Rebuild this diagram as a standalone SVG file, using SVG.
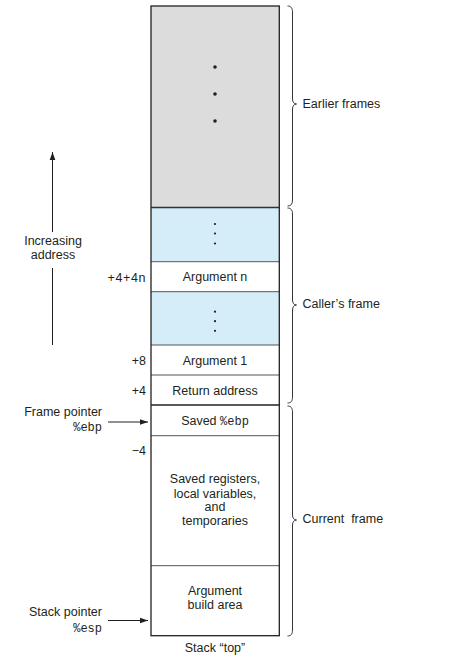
<svg xmlns="http://www.w3.org/2000/svg" width="453" height="671" viewBox="0 0 453 671">
<style>
.t{font-family:"Liberation Sans",Arial,sans-serif;font-size:12.5px;fill:#231f20}
.m{font-family:"Liberation Mono","Courier New",monospace;font-size:12px;fill:#231f20}
.c{text-anchor:middle}
.r{text-anchor:end}
.sep{stroke:#555;stroke-width:1}
.brace{fill:none;stroke:#231f20;stroke-width:0.9}
.arr{stroke:#231f20;stroke-width:1;fill:none}
</style>
<defs>
<marker id="ah" viewBox="0 0 10 10" refX="10" refY="5" markerWidth="8" markerHeight="8" markerUnits="userSpaceOnUse" orient="auto">
<path d="M0,1.5 L10,5 L0,8.5 Z" fill="#231f20"/>
</marker>
</defs>
<g id="earlier">
<rect x="151" y="6" width="128.3" height="201.5" fill="#dcdcdd"/>
<circle cx="215" cy="67" r="1.8" fill="#231f20"/>
<circle cx="215" cy="94" r="1.8" fill="#231f20"/>
<circle cx="215" cy="121" r="1.8" fill="#231f20"/>
</g>
<g id="caller-dots1">
<rect x="151" y="207.5" width="128.3" height="54.2" fill="#d4edf8"/>
<circle cx="215" cy="224" r="1.1" fill="#231f20"/>
<circle cx="215" cy="233.5" r="1.1" fill="#231f20"/>
<circle cx="215" cy="243.5" r="1.1" fill="#231f20"/>
</g>
<g id="arg-n">
<rect x="151" y="261.7" width="128.3" height="30" fill="#fff"/>
<text class="t c" x="215" y="281">Argument n</text>
</g>
<g id="caller-dots2">
<rect x="151" y="291.7" width="128.3" height="53.3" fill="#d4edf8"/>
<circle cx="215" cy="311.7" r="1.1" fill="#231f20"/>
<circle cx="215" cy="321.2" r="1.1" fill="#231f20"/>
<circle cx="215" cy="330.8" r="1.1" fill="#231f20"/>
</g>
<g id="arg-1">
<rect x="151" y="345" width="128.3" height="30" fill="#fff"/>
<text class="t c" x="215" y="364.5">Argument 1</text>
</g>
<g id="ret-addr">
<rect x="151" y="375" width="128.3" height="30" fill="#fff"/>
<text class="t c" x="215" y="394.5">Return address</text>
</g>
<g id="saved-ebp">
<rect x="151" y="405" width="128.3" height="30.7" fill="#fff"/>
<text class="t c" x="215" y="424.5">Saved <tspan class="m">%ebp</tspan></text>
</g>
<g id="saved-regs">
<rect x="151" y="435.7" width="128.3" height="130" fill="#fff"/>
<text class="t c" x="215" y="483">Saved registers,</text>
<text class="t c" x="215" y="497.5">local variables,</text>
<text class="t c" x="215" y="511">and</text>
<text class="t c" x="215" y="525">temporaries</text>
</g>
<g id="arg-build">
<rect x="151" y="565.7" width="128.3" height="70" fill="#fff"/>
<text class="t c" x="215" y="595">Argument</text>
<text class="t c" x="215" y="609">build area</text>
</g>
<g id="separators">
<line class="sep" x1="151" y1="261.7" x2="279.3" y2="261.7"/>
<line class="sep" x1="151" y1="291.7" x2="279.3" y2="291.7"/>
<line class="sep" x1="151" y1="345" x2="279.3" y2="345"/>
<line class="sep" x1="151" y1="375" x2="279.3" y2="375"/>
<line class="sep" x1="151" y1="435.7" x2="279.3" y2="435.7"/>
<line class="sep" x1="151" y1="565.7" x2="279.3" y2="565.7"/>
<line x1="151" y1="207.5" x2="279.3" y2="207.5" stroke="#333" stroke-width="1.3"/>
<line x1="151" y1="405" x2="279.3" y2="405" stroke="#222" stroke-width="1.5"/>
<rect x="151" y="6" width="128.3" height="629.7" fill="none" stroke="#231f20" stroke-width="1.3"/>
</g>
<g id="offsets">
<text class="t r" x="146" y="282" letter-spacing="0.6">+4+4n</text>
<text class="t r" x="146" y="364.5">+8</text>
<text class="t r" x="146" y="394.5">+4</text>
<text class="t r" x="146" y="455">−4</text>
</g>
<g id="increasing">
<text class="t c" x="53" y="245">Increasing</text>
<text class="t c" x="53" y="259">address</text>
</g>
<g id="frame-pointer">
<text class="t r" x="102" y="416">Frame pointer</text>
<text class="m r" x="102" y="430.5">%ebp</text>
</g>
<g id="stack-pointer">
<text class="t r" x="102" y="616">Stack pointer</text>
<text class="m r" x="102" y="631.5">%esp</text>
</g>
<g id="stack-top">
<text class="t c" x="215" y="652">Stack “top”</text>
</g>
<g id="labels">
<text class="t" x="302.5" y="108">Earlier frames</text>
<text class="t" x="302.5" y="308">Caller’s frame</text>
<text class="t" x="302.5" y="523" style="white-space:pre">Current  frame</text>
</g>
<g id="connectors">
<line class="arr" x1="52.5" y1="232" x2="52.5" y2="152" marker-end="url(#ah)"/>
<line class="arr" x1="52.5" y1="268" x2="52.5" y2="345"/>
<line class="arr" x1="108" y1="422" x2="148" y2="422" marker-end="url(#ah)"/>
<line class="arr" x1="108" y1="620.5" x2="148" y2="620.5" marker-end="url(#ah)"/>
<path class="brace" d="M287.5,6 C291,6 292.5,8 292.5,12 L292.5,99 C292.5,102 294,104 296.5,104 C294,104 292.5,106 292.5,109 L292.5,200 C292.5,204 291,206 287.5,206"/>
<path class="brace" d="M287.5,208 C291,208 292.5,210 292.5,214 L292.5,300 C292.5,303 294,305 296.5,305 C294,305 292.5,307 292.5,310 L292.5,397 C292.5,401 291,403 287.5,403"/>
<path class="brace" d="M287.5,406 C291,406 292.5,408 292.5,412 L292.5,515 C292.5,518 294,520 296.5,520 C294,520 292.5,522 292.5,525 L292.5,630 C292.5,634 291,636 287.5,636"/>
</g>
</svg>
